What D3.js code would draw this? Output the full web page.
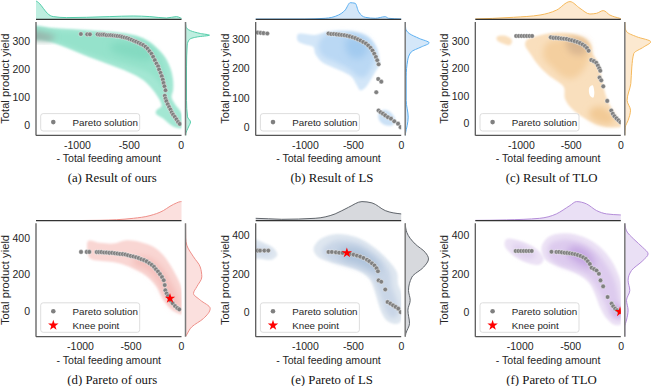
<!DOCTYPE html>
<html lang="en">
<head>
<meta charset="UTF-8">
<title>Pareto fronts</title>
<style>
  body, html { margin: 0; padding: 0; background: #fff; overflow: hidden; }
  svg { display: block; }
  text { font-family: "Liberation Sans", Arial, sans-serif; fill: #262626; }
  text.caption { font-family: "Liberation Serif", "Times New Roman", serif; fill: #111; }
</style>
</head>
<body>
<script src="https://d3js.org/d3.v7.min.js"></script>
<script>
// ---- values ----
var xTicks = [-1000, -500, 0];
var yTicksTop = [0, 100, 200, 300];
var yTicksBottom = [0, 200, 400];
var captions = ["(a) Result of ours", "(b) Result of LS", "(c) Result of TLO",
                "(d) Pareto of ours", "(e) Pareto of LS", "(f) Pareto of TLO"];

// pareto solutions [-feeding, yield]
var paretoA = [[-962,325],[-901,324],[-875,324],[-801,324],[-779,323],[-757,323],[-737,323],[-714,321],[-692,321],[-673,321],[-651,320],[-628,319],[-609,318],[-586,317],[-564,315],[-541,313],[-519,311],[-497,308],[-474,305],[-452,301],[-430,298],[-407,294],[-385,290],[-362,286],[-340,280],[-320,273],[-301,264],[-282,255],[-266,244],[-250,232],[-234,220],[-218,210],[-209,199],[-195,187],[-183,175],[-173,163],[-166,151],[-157,139],[-147,125],[-154,105],[-147,95],[-138,86],[-125,75],[-112,65],[-99,56],[-87,46],[-74,38],[-58,30],[-41,21],[-26,12],[-10,5]];
var paretoB = [[-1490,322],[-1460,321],[-1430,320],[-1390,319],[-754,319],[-726,317],[-698,317],[-671,316],[-643,315],[-615,314],[-588,313],[-560,311],[-532,309],[-504,306],[-476,303],[-448,299],[-421,295],[-393,290],[-365,285],[-341,278],[-317,270],[-296,261],[-278,250],[-261,239],[-247,228],[-233,214],[-237,164],[-205,155],[-257,119],[-233,57],[-212,51],[-188,46],[-164,40],[-136,34],[-104,29],[-70,20],[-31,12],[-4,0]];
var paretoC = [[-1047,318],[-1020,318],[-993,318],[-967,318],[-940,318],[-913,318],[-887,318],[-700,313],[-673,311],[-647,311],[-620,310],[-593,309],[-567,308],[-540,307],[-513,304],[-487,302],[-460,299],[-433,296],[-407,292],[-380,287],[-357,281],[-337,274],[-320,264],[-293,230],[-267,226],[-243,220],[-227,210],[-213,200],[-203,191],[-210,166],[-193,156],[-173,134],[-133,81],[-93,46],[-77,34],[-60,25],[-40,17],[-20,10],[0,3]];
var paretoD = [[-990,323],[-934,323],[-908,323],[-835,322],[-812,322],[-789,322],[-762,320],[-736,320],[-710,318],[-683,318],[-656,316],[-630,314],[-604,312],[-577,311],[-551,309],[-525,305],[-498,301],[-472,298],[-445,294],[-419,289],[-393,283],[-366,278],[-340,271],[-313,261],[-290,252],[-267,241],[-248,228],[-228,216],[-208,201],[-188,185],[-171,168],[-161,141],[-155,113],[-142,95],[-129,81],[-116,68],[-102,55],[-82,41],[-59,26],[-37,15],[-17,8]];
var paretoE = [[-1490,320],[-1466,320],[-1421,320],[-1380,320],[-754,313],[-719,313],[-677,311],[-643,309],[-608,308],[-563,306],[-531,303],[-494,299],[-458,294],[-424,289],[-390,282],[-354,273],[-330,265],[-302,254],[-275,243],[-254,229],[-240,213],[-233,166],[-205,159],[-164,119],[-140,54],[-111,46],[-83,37],[-56,29],[-28,20],[-4,2]];
var paretoF = [[-1040,318],[-1013,318],[-987,318],[-960,318],[-934,318],[-907,318],[-881,318],[-685,314],[-636,313],[-610,313],[-583,311],[-556,309],[-530,308],[-503,306],[-477,304],[-451,301],[-424,297],[-397,292],[-371,285],[-345,277],[-325,265],[-305,251],[-288,231],[-262,224],[-238,217],[-215,200],[-199,166],[-173,135],[-129,80],[-89,46],[-73,32],[-54,20],[-34,12],[-14,3]];
var kneeD = [-109, 68];
var kneeE = [-563, 308];
var kneeF = [-5, 4];

// density region outlines (outer level and inner levels), data units
var outerA = [[-1460,352],[-1228,346],[-1035,342],[-843,337],[-651,332],[-490,324],[-362,310],[-250,282],[-154,244],[-99,202],[-74,161],[-74,125],[-89,101],[-58,77],[-10,54],[25,30],[25,-8],[-74,-4],[-170,24],[-240,42],[-234,54],[-186,68],[-202,89],[-266,125],[-362,161],[-458,182],[-586,202],[-714,220],[-843,238],[-1003,262],[-1163,286],[-1324,306],[-1460,315]];
var midA = [[-1460,342],[-1099,333],[-779,327],[-522,315],[-362,298],[-250,268],[-170,226],[-138,173],[-154,125],[-202,149],[-298,185],[-458,208],[-683,232],[-939,262],[-1195,298],[-1460,318]];
var coreA = [[-651,292],[-458,294],[-314,280],[-250,250],[-298,232],[-458,238],[-618,256],[-683,274]];
var darkA = [[-1460,335],[-1291,327],[-1211,315],[-1260,301],[-1356,301],[-1460,306]];

var outerB = [[-1073,316],[-893,314],[-789,323],[-615,328],[-476,324],[-354,310],[-275,285],[-233,251],[-226,211],[-268,188],[-320,159],[-372,134],[-424,125],[-458,142],[-511,171],[-598,188],[-719,205],[-823,222],[-893,251],[-911,273],[-997,281],[-1073,293]];
var midB = [[-789,313],[-546,321],[-390,310],[-302,285],[-268,245],[-302,205],[-372,171],[-442,171],[-546,199],[-685,222],[-823,245],[-859,279]];
var coreB = [[-563,302],[-442,305],[-354,285],[-372,245],[-476,233],[-563,256]];
var blobB = [[-226,51],[-164,59],[-94,46],[-59,23],[-94,6],[-181,9],[-233,29]];

var outerC = [[-940,303],[-807,321],[-640,330],[-473,325],[-357,309],[-297,285],[-280,254],[-240,230],[-207,193],[-180,150],[-147,101],[-90,53],[-23,10],[10,-12],[-107,-15],[-240,-5],[-373,20],[-490,53],[-557,89],[-567,130],[-623,150],[-723,175],[-823,211],[-907,254],[-957,285]];
var leftC = [[-1240,315],[-1157,319],[-1090,303],[-1107,285],[-1190,291],[-1240,303]];
var midC = [[-740,291],[-507,309],[-340,297],[-307,254],[-374,193],[-474,163],[-574,168],[-674,199],[-774,242]];
var coreC = [[-540,305],[-424,309],[-340,291],[-357,254],[-440,248],[-524,266]];
var lowC = [[-307,46],[-207,61],[-107,40],[-57,10],[-124,-5],[-240,4],[-307,22]];
var holeC = [[-313,130],[-280,138],[-263,114],[-273,93],[-307,101]];

var outerD = [[-918,384],[-802,373],[-670,369],[-538,387],[-406,378],[-274,351],[-175,305],[-76,223],[-10,150],[20,95],[20,-18],[-76,0],[-175,59],[-241,132],[-340,190],[-472,232],[-637,263],[-802,274],[-901,287],[-928,333]];
var innerD = [[-340,296],[-208,250],[-109,168],[-27,77],[-10,13],[-76,19],[-158,86],[-241,168],[-340,223],[-472,256],[-472,287]];

var leftE = [[-1560,380],[-1414,357],[-1327,333],[-1286,299],[-1344,273],[-1448,277],[-1560,285]];
var leftE2 = [[-1560,345],[-1414,336],[-1344,316],[-1379,294],[-1484,299],[-1560,319]];
var outerE = [[-910,328],[-841,379],[-685,405],[-476,391],[-302,345],[-146,277],[-42,208],[-31,149],[20,80],[20,12],[-4,-48],[-59,-60],[-146,-43],[-198,-5],[-240,54],[-275,114],[-320,169],[-406,208],[-546,237],[-719,259],[-859,285]];
var midE = [[-823,319],[-685,371],[-476,362],[-320,319],[-181,260],[-111,200],[-94,131],[-42,63],[-25,-5],[-77,-31],[-146,-5],[-198,63],[-250,131],[-320,191],[-442,226],[-615,251],[-754,277]];
var coreE = [[-650,328],[-476,336],[-338,303],[-233,251],[-216,208],[-302,217],[-442,251],[-598,277]];

var leftF = [[-1132,379],[-1000,371],[-834,328],[-762,277],[-801,248],[-933,259],[-1082,303],[-1149,345]];
var leftF2 = [[-1066,354],[-933,336],[-834,294],[-901,277],[-1033,303]];
var outerF = [[-785,336],[-709,393],[-536,410],[-371,391],[-206,340],[-89,268],[-24,200],[20,114],[20,-56],[-57,-65],[-139,-31],[-206,29],[-255,97],[-305,149],[-387,186],[-503,217],[-636,243],[-752,277]];
var midF = [[-702,354],[-536,379],[-371,354],[-222,303],[-123,234],[-57,166],[-24,97],[-7,12],[-40,-31],[-106,-14],[-156,46],[-222,114],[-288,166],[-371,200],[-503,226],[-636,251],[-719,294]];
var coreF = [[-503,336],[-387,336],[-288,294],[-255,243],[-338,234],[-437,260],[-520,294]];
var lowF = [[-73,46],[-7,37],[15,-31],[-40,-31],[-80,3]];

// marginal densities: [value, relative density]
var topA = [[-1460,19],[-1397,18.3],[-1362,16],[-1324,11],[-1285,6],[-1228,2.7],[-1099,1.7],[-907,2],[-683,2.7],[-458,3.3],[-298,2.7],[-138,1.3],[-41,2.7],[0,1.3],[20,0.5]];
var rightA = [[-45,0],[-30,0.3],[-6,3],[12,5],[30,2],[89,1],[208,1],[286,1.7],[306,4],[315,12],[321,24],[327,15],[337,5],[351,0.5],[370,0]];
var topB = [[-1560,0.2],[-1000,0.3],[-789,1],[-650,4.3],[-580,9.3],[-528,16.6],[-476,16],[-441,7.6],[-372,2],[-268,1],[-164,2.6],[-129,1],[0,0.3],[20,0.2]];
var rightB = [[-30,0],[-23,0.2],[6,2],[34,3],[91,1],[171,1],[228,2.5],[256,6],[273,16],[287,24],[302,14],[319,4],[336,0.5],[360,0]];
var topC = [[-1500,0.2],[-1073,2],[-807,4.3],[-640,9.3],[-507,17.7],[-407,11],[-307,5.3],[-240,6],[-173,8.7],[-107,4.3],[-7,1],[10,0.5]];
var rightC = [[-45,0],[-15,0.5],[10,3.3],[47,5.7],[83,2.3],[144,6],[205,7],[254,9],[278,19],[297,26],[315,12],[333,2],[350,0.3],[370,0]];
var topD = [[-1460,0],[-1066,0],[-802,0.3],[-472,2.3],[-307,5],[-175,10],[-109,14.3],[-43,17.7],[-3,19],[10,19]];
var rightD = [[-142,0],[-133,1],[-88,6.3],[-42,18],[13,24.7],[59,14.7],[95,8],[132,11.3],[186,16.3],[241,14.7],[296,8],[360,1.3],[400,0.2],[480,0]];
var topE = [[-1560,2.3],[-1511,2.3],[-1240,1.3],[-893,2.3],[-685,6.7],[-546,13.3],[-406,19],[-302,17.7],[-164,10],[0,6.7],[20,6.5]];
var rightE = [[-125,0],[-108,0.7],[-56,4.3],[12,2.7],[63,5],[114,3.3],[183,6.7],[234,18.3],[277,23.3],[311,20],[354,10],[413,1.7],[461,0]];
var topF = [[-1460,0.2],[-1132,0.7],[-801,2.3],[-636,6.7],[-503,15],[-437,19],[-338,16.7],[-238,10],[-139,6.7],[-7,5.7],[10,5.6]];
var rightF = [[-125,0],[-74,0],[-39,1.7],[12,3.3],[63,1.7],[114,5],[166,3.3],[217,6.7],[268,18],[303,23.3],[336,18],[379,9],[422,1.7],[461,0]];

// ---- layout ----
var W = 651, H = 386;
var colL = [36, 255.7, 475.3], plotW = 145.5;
var rowT = [22, 223.3], plotH = 113.4;

var panels = [
  {id: "a", col: 0, row: 0, xDom: [-1394, 7], yDom: [-36, 368], yTicks: yTicksTop,
   pareto: paretoA, knee: null, top: topA, right: rightA,
   layers: [{pts: outerA, c: "#a3e7d3"}, {pts: midA, c: "#95e2cb", b: 2}, {pts: coreA, c: "#84dac1", b: 3.5}, {pts: darkA, c: "#98b4ab", b: 3}],
   mFill: "#a8e8d5", mLine: "#55cdaa"},
  {id: "b", col: 1, row: 0, xDom: [-1511, 2], yDom: [-28, 358], yTicks: yTicksTop,
   pareto: paretoB, knee: null, top: topB, right: rightB,
   layers: [{pts: outerB, c: "#d3e6f8"}, {pts: blobB, c: "#cbe1f6"}, {pts: midB, c: "#bad8f4", b: 2.5}, {pts: coreB, c: "#a2caef", b: 3.5}],
   mFill: "#c5dff7", mLine: "#5caff0"},
  {id: "c", col: 2, row: 0, xDom: [-1457, 3], yDom: [-45, 369], yTicks: yTicksTop,
   pareto: paretoC, knee: null, top: topC, right: rightC,
   layers: [{pts: outerC, c: "#f9dfbd"}, {pts: leftC, c: "#f9dfbd"}, {pts: midC, c: "#f4cf9f", b: 3}, {pts: lowC, c: "#f2ca96", b: 3}, {pts: coreC, c: "#dbb892", b: 3}, {pts: holeC, c: "#ffffff", b: 0.6}],
   mFill: "#fbe1c0", mLine: "#f5b95c"},
  {id: "d", col: 0, row: 1, xDom: [-1436, 5], yDom: [-142, 480], yTicks: yTicksBottom,
   pareto: paretoD, knee: kneeD, top: topD, right: rightD,
   layers: [{pts: outerD, c: "#f9d6d3"}, {pts: innerD, c: "#f4c0bc", b: 3}],
   mFill: "#f9d6d3", mLine: "#ee8f89"},
  {id: "e", col: 1, row: 1, xDom: [-1511, 2], yDom: [-125, 461], yTicks: yTicksBottom,
   pareto: paretoE, knee: kneeE, top: topE, right: rightE,
   layers: [{pts: leftE, c: "#dfe7f0"}, {pts: leftE2, c: "#cfdaea", b: 2.5}, {pts: outerE, c: "#dfe7f0"}, {pts: midE, c: "#c9d6e7", b: 2.5}, {pts: coreE, c: "#aec3db", b: 3.5}],
   mFill: "#c9ccd1", mLine: "#5f646a"},
  {id: "f", col: 2, row: 1, xDom: [-1440, 2], yDom: [-125, 461], yTicks: yTicksBottom,
   pareto: paretoF, knee: kneeF, top: topF, right: rightF,
   layers: [{pts: leftF, c: "#ece2f5"}, {pts: leftF2, c: "#e0d2ef", b: 2.5}, {pts: outerF, c: "#ece2f5"}, {pts: midF, c: "#ddcbee", b: 2.5}, {pts: lowF, c: "#cfb5e7", b: 2.5}, {pts: coreF, c: "#c6a8e3", b: 3.5}],
   mFill: "#e3d6f1", mLine: "#b38cd8"}
];

var svg = d3.select("body").append("svg").attr("width", W).attr("height", H);
var defs = svg.append("defs");
[0.6, 0.9, 2, 2.5, 3, 3.5].forEach(function (s) {
  defs.append("filter").attr("id", "blur" + String(s).replace(".", "_"))
    .attr("x", "-30%").attr("y", "-30%").attr("width", "160%").attr("height", "160%")
    .append("feGaussianBlur").attr("stdDeviation", s);
});

panels.forEach(function (p, i) {
  var L = colL[p.col], T = rowT[p.row], R = L + plotW, B = T + plotH;
  var x = d3.scaleLinear().domain(p.xDom).range([L, R]);
  var y = d3.scaleLinear().domain(p.yDom).range([B, T]);
  var g = svg.append("g");

  defs.append("clipPath").attr("id", "clip" + p.id).append("rect")
    .attr("x", L).attr("y", T).attr("width", plotW).attr("height", plotH);

  // density shading
  var shape = d3.line().x(function (d) { return x(d[0]); }).y(function (d) { return y(d[1]); })
    .curve(d3.curveCatmullRomClosed.alpha(0.5));
  var kde = g.append("g").attr("clip-path", "url(#clip" + p.id + ")");
  p.layers.forEach(function (ly) {
    kde.append("path").attr("d", shape(ly.pts)).attr("fill", ly.c)
      .attr("filter", "url(#blur" + String(ly.b || 0.9).replace(".", "_") + ")");
  });

  // pareto points
  kde.selectAll("circle.pt").data(p.pareto).enter().append("circle")
    .attr("class", "pt")
    .attr("cx", function (d) { return x(d[0]); })
    .attr("cy", function (d) { return y(d[1]); })
    .attr("r", 2.3).attr("fill", "#808080").attr("stroke", "#fff").attr("stroke-width", 0.4);

  if (p.knee) {
    kde.append("path").attr("d", d3.symbol().type(d3.symbolStar).size(34)())
      .attr("transform", "translate(" + x(p.knee[0]) + "," + y(p.knee[1]) + ")")
      .attr("fill", "#ff0000");
  }

  // marginal: top
  var mBase = T - 2.7, mSize = 20;
  var my = d3.scaleLinear().domain([0, 20]).range([mBase, mBase - mSize]);
  defs.append("clipPath").attr("id", "clipT" + p.id).append("rect")
    .attr("x", L).attr("y", mBase - mSize - 3).attr("width", plotW).attr("height", mSize + 3);
  var topArea = d3.area().x(function (d) { return x(d[0]); }).y0(mBase)
    .y1(function (d) { return my(d[1]); }).curve(d3.curveMonotoneX);
  var tg = g.append("g").attr("clip-path", "url(#clipT" + p.id + ")");
  tg.append("path").attr("d", topArea(p.top)).attr("fill", p.mFill).attr("fill-opacity", 0.75);
  tg.append("path").attr("d", topArea.lineY1()(p.top)).attr("fill", "none")
    .attr("stroke", p.mLine).attr("stroke-width", 1);

  // marginal: right
  var mLeft = R + 4;
  var mx = d3.scaleLinear().domain([0, 20]).range([mLeft, mLeft + mSize]);
  defs.append("clipPath").attr("id", "clipR" + p.id).append("rect")
    .attr("x", mLeft).attr("y", T).attr("width", 40).attr("height", plotH);
  var rightArea = d3.area().y(function (d) { return y(d[0]); }).x0(mLeft)
    .x1(function (d) { return mx(d[1]); }).curve(d3.curveMonotoneY);
  var rg = g.append("g").attr("clip-path", "url(#clipR" + p.id + ")");
  rg.append("path").attr("d", rightArea(p.right)).attr("fill", p.mFill).attr("fill-opacity", 0.75);
  rg.append("path").attr("d", rightArea.lineX1()(p.right)).attr("fill", "none")
    .attr("stroke", p.mLine).attr("stroke-width", 1);

  // spines
  g.append("line").attr("x1", L).attr("x2", L).attr("y1", T).attr("y2", B)
    .attr("stroke", "#555").attr("stroke-width", 1.25);
  g.append("line").attr("x1", L).attr("x2", R).attr("y1", B).attr("y2", B)
    .attr("stroke", "#555").attr("stroke-width", 1.25);
  g.append("line").attr("x1", L).attr("x2", R).attr("y1", mBase).attr("y2", mBase)
    .attr("stroke", "#333").attr("stroke-width", 1.25);
  g.append("line").attr("x1", mLeft).attr("x2", mLeft).attr("y1", T).attr("y2", B)
    .attr("stroke", "#7a7a7a").attr("stroke-width", 1.5);

  // axes
  var fmt = function (d) { return String(d); };
  var xa = g.append("g").attr("transform", "translate(0," + B + ")")
    .call(d3.axisBottom(x).tickValues(xTicks).tickSize(0).tickPadding(6).tickFormat(fmt));
  var ya = g.append("g").attr("transform", "translate(" + L + ",0)")
    .call(d3.axisLeft(y).tickValues(p.yTicks).tickSize(0).tickPadding(6).tickFormat(fmt));
  [xa, ya].forEach(function (a) {
    a.select(".domain").remove();
    a.selectAll("text").attr("font-size", 10.5).attr("font-family", "Liberation Sans, Arial, sans-serif").attr("fill", "#262626");
  });

  g.append("text").attr("x", (L + R) / 2).attr("y", B + 27).attr("text-anchor", "middle")
    .attr("font-size", 10.6).text("- Total feeding amount");
  g.append("text").attr("transform", "translate(" + (L - 27) + "," + ((T + B) / 2) + ") rotate(-90)")
    .attr("text-anchor", "middle").attr("font-size", 11.2).text("Total product yield");

  // legend
  var boxH = p.knee ? 29.5 : 17.4;
  var by = B - 4.4 - boxH;
  var lg = g.append("g");
  lg.append("rect").attr("x", L + 4.7).attr("y", by).attr("width", 99).attr("height", boxH)
    .attr("rx", 2.5).attr("fill", "#fff").attr("fill-opacity", 0.8)
    .attr("stroke", "#d4d4d4").attr("stroke-width", 0.8);
  var r1 = by + 8.5;
  lg.append("circle").attr("cx", L + 17.3).attr("cy", r1).attr("r", 2.3).attr("fill", "#808080");
  lg.append("text").attr("x", L + 36.5).attr("y", r1 + 3.5).attr("font-size", 9.8).text("Pareto solution");
  if (p.knee) {
    var r2 = by + 22.5;
    lg.append("path").attr("d", d3.symbol().type(d3.symbolStar).size(34)())
      .attr("transform", "translate(" + (L + 17.3) + "," + r2 + ")").attr("fill", "#ff0000");
    lg.append("text").attr("x", L + 36.5).attr("y", r2 + 3.5).attr("font-size", 9.8).text("Knee point");
  }

  // caption
  g.append("text").attr("class", "caption").attr("x", (L + R) / 2 + 3.5)
    .attr("y", p.row === 0 ? 182.3 : 384.3).attr("text-anchor", "middle")
    .attr("font-size", 12.8).text(captions[i]);
});
</script>
</body>
</html>
